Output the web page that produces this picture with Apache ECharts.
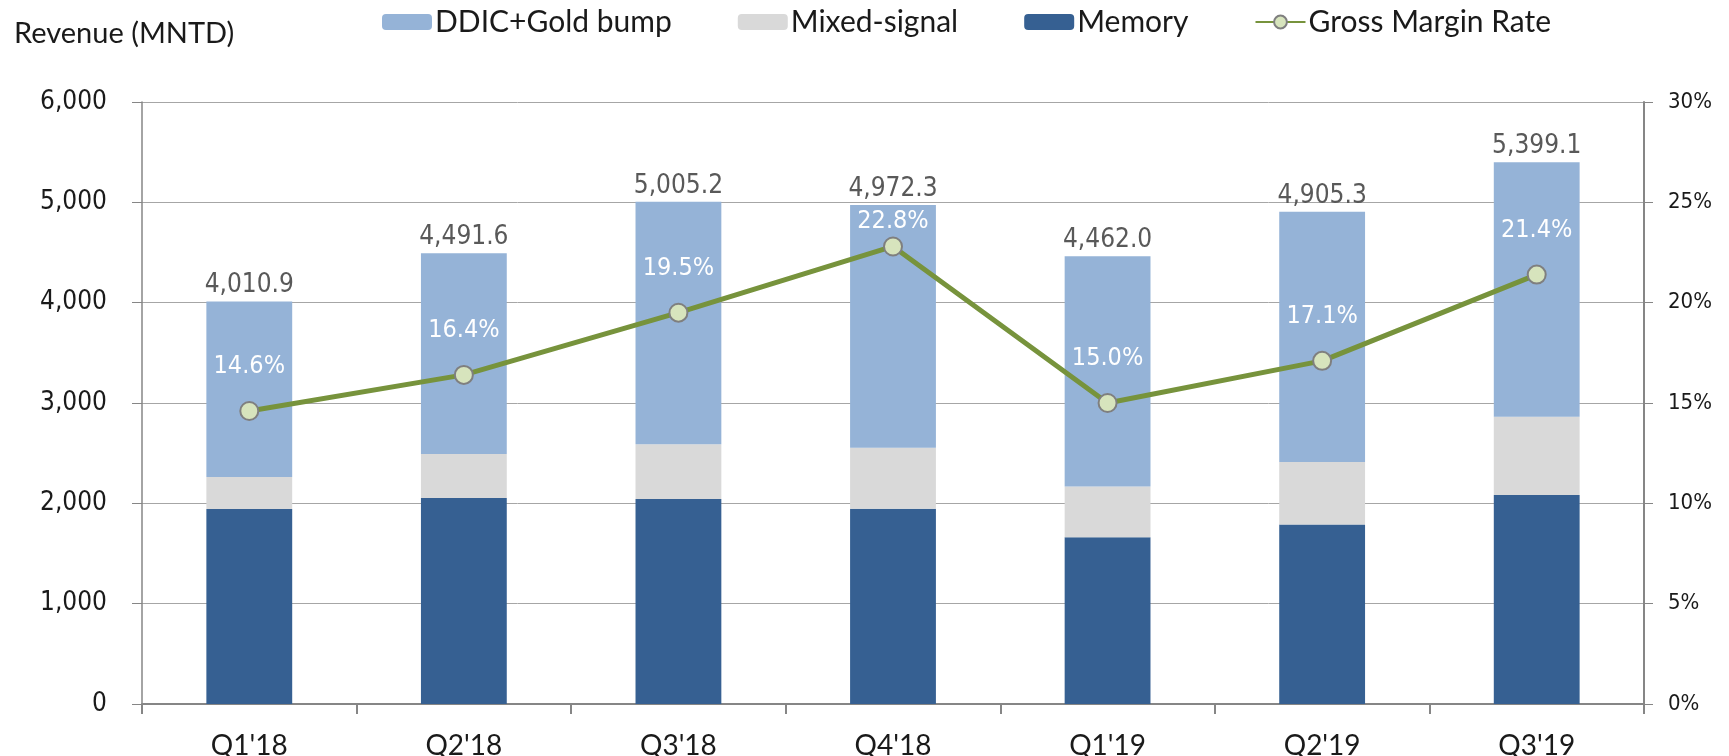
<!DOCTYPE html>
<html lang="en">

<head>
  <meta charset="UTF-8">
  <title>Revenue (MNTD)</title>
  <script src="https://cdn.jsdelivr.net/npm/echarts@6/dist/echarts.min.js"></script>
  <style>
    html, body { margin: 0; padding: 0; background: #fff; }
  </style>
</head>

<body>
  <div id="main" style="width: 1729px;height:756px;"></div>
</body>

</html>
<script>
  // data
  const quarters = ["Q1'18", "Q2'18", "Q3'18", "Q4'18", "Q1'19", "Q2'19", "Q3'19"];
  const memory = [1944, 2053, 2043, 1945, 1662, 1790, 2083];
  const mixedSignal = [318, 438, 547, 610, 507, 622, 779];
  const ddicGold = [1748.9, 2000.6, 2415.2, 2417.3, 2293.0, 2493.3, 2537.1];
  const totals = [4010.9, 4491.6, 5005.2, 4972.3, 4462.0, 4905.3, 5399.1];
  const marginRate = [14.6, 16.4, 19.5, 22.8, 15.0, 17.1, 21.4];
  const leftTicks = [0, 6000, 1000];
  const rightTicks = [0, 30, 5];

  initChart();

  function initChart() {
    const fmtNum = (v, d) => Number(v).toLocaleString('en-US', {
      minimumFractionDigits: d,
      maximumFractionDigits: d
    });

    const calibri = 'Lato, "Liberation Sans", sans-serif';
    const verdana = '"DejaVu Sans Condensed", "DejaVu Sans", sans-serif';

    // the 22.8% label sits tight on its point, the others float higher
    let lineData = marginRate.map((v, i) => ({
      value: v,
      label: { distance: i === 3 ? 2 : 22 }
    }));

    let myChart = echarts.init(document.getElementById('main'));
    let option = {
      animation: false,
      title: {
        text: 'Revenue (MNTD)',
        left: 9,
        top: 14,
        textStyle: {
          fontFamily: calibri,
          fontWeight: 'normal',
          fontSize: 29,
          color: '#1a1a1a'
        }
      },
      legend: {
        left: 377,
        top: 2,
        itemWidth: 50,
        itemHeight: 16,
        itemGap: 66,
        data: ['DDIC+Gold bump', 'Mixed-signal', 'Memory', 'Gross Margin Rate'],
        textStyle: {
          fontFamily: calibri,
          fontSize: 30,
          color: '#1a1a1a',
          padding: [0, 0, 0, -2]
        }
      },
      grid: {
        left: 142,
        right: 85,
        top: 102,
        bottom: 52,
        containLabel: false,
        outerBoundsMode: 'none'
      },
      xAxis: {
        type: 'category',
        data: quarters,
        axisLine: { lineStyle: { color: '#868686', width: 2 } },
        axisTick: { show: true, length: 10, lineStyle: { color: '#868686', width: 2 } },
        axisLabel: {
          margin: 28,
          fontFamily: calibri,
          fontSize: 28,
          color: '#1a1a1a'
        }
      },
      yAxis: [{
        type: 'value',
        min: leftTicks[0],
        max: leftTicks[1],
        interval: leftTicks[2],
        axisLine: { show: true, lineStyle: { color: '#868686', width: 1.5 } },
        axisTick: { show: true, length: 10, lineStyle: { color: '#868686' } },
        splitLine: { lineStyle: { color: '#a6a6a6', width: 1 } },
        axisLabel: {
          margin: 35,
          fontFamily: verdana,
          fontSize: 26,
          color: '#1a1a1a',
          formatter: v => fmtNum(v, 0)
        }
      }, {
        type: 'value',
        min: rightTicks[0],
        max: rightTicks[1],
        interval: rightTicks[2],
        position: 'right',
        axisLine: { show: true, lineStyle: { color: '#868686', width: 2 } },
        axisTick: { show: true, length: 9, lineStyle: { color: '#868686' } },
        splitLine: { show: false },
        axisLabel: {
          margin: 24,
          fontFamily: verdana,
          fontSize: 22,
          color: '#1a1a1a',
          formatter: '{value}%'
        }
      }],
      series: [{
        name: 'Memory',
        type: 'bar',
        stack: 'rev',
        barWidth: '40%',
        itemStyle: { color: '#366092' },
        data: memory
      }, {
        name: 'Mixed-signal',
        type: 'bar',
        stack: 'rev',
        itemStyle: { color: '#d9d9d9' },
        data: mixedSignal
      }, {
        name: 'DDIC+Gold bump',
        type: 'bar',
        stack: 'rev',
        itemStyle: { color: '#95b3d7' },
        label: {
          show: true,
          position: 'top',
          distance: 3,
          fontFamily: verdana,
          fontSize: 26,
          color: '#595959',
          formatter: p => fmtNum(totals[p.dataIndex], 1)
        },
        data: ddicGold
      }, {
        name: 'Gross Margin Rate',
        type: 'line',
        yAxisIndex: 1,
        symbol: 'circle',
        symbolSize: 18,
        lineStyle: { color: '#77933c', width: 5 },
        itemStyle: { color: '#d7e4bd', borderColor: '#7f7f7f', borderWidth: 2 },
        label: {
          show: true,
          position: 'top',
          fontFamily: verdana,
          fontSize: 25,
          color: '#ffffff',
          formatter: p => p.value.toFixed(1) + '%'
        },
        z: 5,
        data: lineData
      }]
    };
    myChart.setOption(option, true);
  }
</script>
